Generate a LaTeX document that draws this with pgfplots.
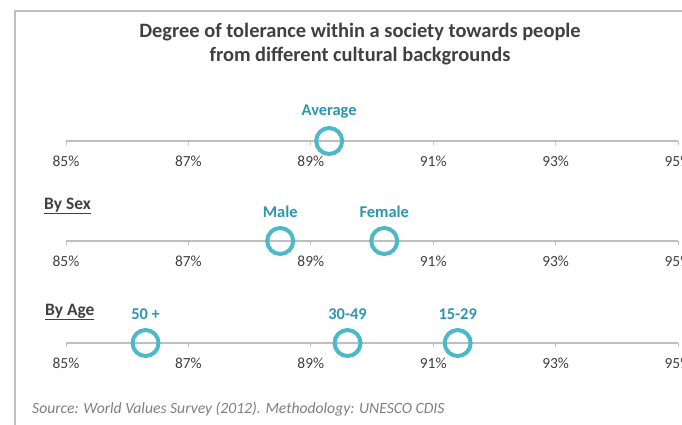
\documentclass[border=0pt]{standalone}
\usepackage{pgfplots}
\pgfplotsset{compat=1.18}
\usepackage{fontspec}
\setmainfont{Carlito}
\definecolor{circ}{HTML}{4BB9C9}
\definecolor{lab}{HTML}{2A97B0}
\definecolor{txt}{HTML}{404040}
\definecolor{axl}{HTML}{BFBFBF}
\definecolor{frm}{HTML}{BFBFBF}
\definecolor{src}{HTML}{7F7F7F}

\pgfplotsset{
  dotaxis/.style={
    scale only axis, width=612bp, height=20bp,
    xmin=85, xmax=95, ymin=0, ymax=1,
    enlargelimits=false, clip=false,
    axis x line=bottom, axis y line=none,
    x axis line style={-, draw=axl, line width=1.2bp},
    xtick={85,87,89,91,93,95},
    /pgf/number format/assume math mode=true,
    xticklabel={\pgfmathprintnumber[fixed,precision=0]{\tick}\%},
    xticklabel style={anchor=center, yshift=-16bp, font=\fontsize{15.5}{17}\selectfont, text=txt},
    major tick length=4bp, tick align=outside,
    tick style={draw=axl, line width=1bp},
    every node near coord/.style={anchor=center, yshift=29bp, font=\fontsize{16.5}{18}\selectfont\bfseries, text=lab},
  },
  dots/.style={only marks, mark=o, mark size=13bp,
    mark options={draw=circ, line width=4bp},
    nodes near coords, point meta=explicit symbolic},
}

\pgfplotstableread{
x y label
89.3 0 Average
}\avgdata
\pgfplotstableread{
x y label
88.5 0 Male
90.2 0 Female
}\sexdata
\pgfplotstableread{
x y label
86.3 0 {50 +}
89.6 0 30-49
91.4 0 15-29
}\agedata

\begin{document}
\begin{tikzpicture}
\path[use as bounding box] (0bp,0bp) rectangle (682bp,-425bp);
\draw[frm, line width=1.5bp] (15bp,-425bp) -- (15bp,-11bp) -- (682bp,-11bp);
\node[font=\fontsize{20.5}{24}\selectfont\bfseries, text=txt, align=center] at (360bp,-44bp)
  {Degree of tolerance within a society towards people\\from different cultural backgrounds};

\begin{axis}[dotaxis, at={(66bp,-141bp)}, anchor=south west]
\addplot[dots] table[x=x, y=y, meta=label] {\avgdata};
\end{axis}

\node[anchor=west, inner sep=0pt, font=\fontsize{17.5}{19}\selectfont\bfseries, text=txt] at (44bp,-206bp) {\underline{By Sex}};
\begin{axis}[dotaxis, at={(66bp,-241bp)}, anchor=south west]
\addplot[dots] table[x=x, y=y, meta=label] {\sexdata};
\end{axis}

\node[anchor=west, inner sep=0pt, font=\fontsize{17.5}{19}\selectfont\bfseries, text=txt] at (45bp,-312bp) {\underline{By Age}};
\begin{axis}[dotaxis, at={(66bp,-343bp)}, anchor=south west]
\addplot[dots] table[x=x, y=y, meta=label] {\agedata};
\end{axis}

\node[anchor=west, inner sep=0pt, font=\fontsize{15.7}{17}\selectfont\itshape, text=src] at (32bp,-409bp)
  {Source: World Values Survey (2012). Methodology: UNESCO CDIS};
\end{tikzpicture}
\end{document}
